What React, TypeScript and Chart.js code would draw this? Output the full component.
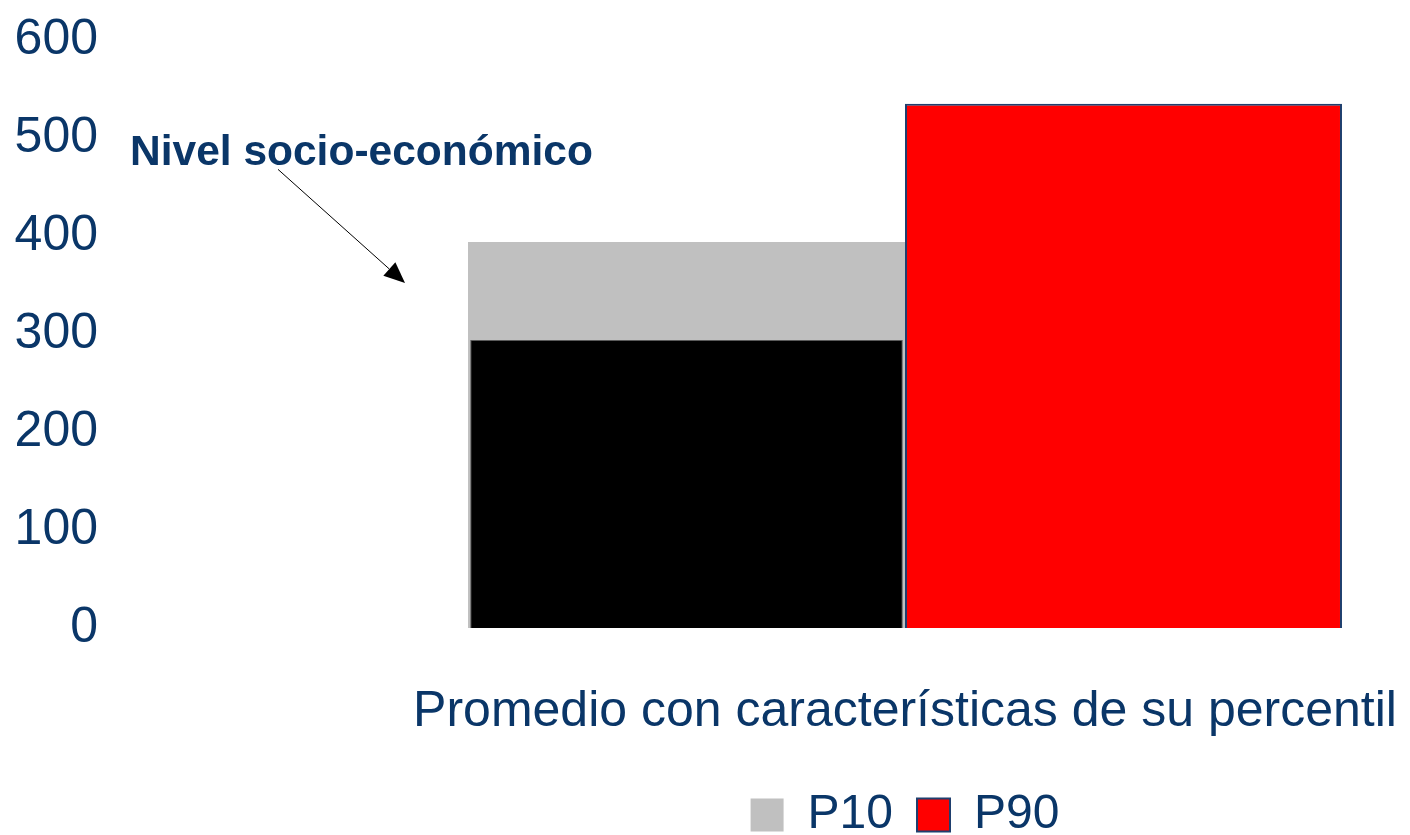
import React, { useEffect, useRef } from "react";
import { Chart, registerables } from "chart.js";

Chart.register(...registerables);

// ---- data ----
const categories = ["Promedio con características de su percentil"];
const seriesLabels = ["P10", "P90", "P10 (sin nivel socio-económico)"];
const p10Values = [394];
const p90Values = [535];
const p10BaseValues = [294];
const yTicks = [0, 100, 200, 300, 400, 500, 600];
const annotationText = "Nivel socio-económico";
// annotation anchor values on the y scale (text baseline, arrow start, arrow tip)
const annotationValues = [472, 468, 352];

const NAVY = "#0A3668";
const FONT = "'Liberation Sans', Arial, Helvetica, sans-serif";

const annotationPlugin = {
  id: "nseAnnotation",
  afterDraw(chart: any) {
    const { ctx, chartArea, scales } = chart;
    const y = scales.y;
    const textY = y.getPixelForValue(annotationValues[0]);
    const startY = y.getPixelForValue(annotationValues[1]);
    const tipY = y.getPixelForValue(annotationValues[2]);
    const textX = chartArea.left - 280;
    const startX = chartArea.left - 132;
    const tipX = chartArea.left - 5;
    ctx.save();
    ctx.fillStyle = NAVY;
    ctx.font = `bold 42.5px ${FONT}`;
    ctx.textAlign = "left";
    ctx.textBaseline = "alphabetic";
    ctx.fillText(annotationText, textX, textY);
    // arrow
    const ang = Math.atan2(tipY - startY, tipX - startX);
    const headLen = 21;
    const headHalf = 9;
    const bx = tipX - headLen * Math.cos(ang);
    const by = tipY - headLen * Math.sin(ang);
    ctx.strokeStyle = "#000";
    ctx.lineWidth = 1;
    ctx.beginPath();
    ctx.moveTo(startX, startY);
    ctx.lineTo(bx, by);
    ctx.stroke();
    ctx.fillStyle = "#000";
    ctx.beginPath();
    ctx.moveTo(tipX, tipY);
    ctx.lineTo(bx + headHalf * Math.sin(ang), by - headHalf * Math.cos(ang));
    ctx.lineTo(bx - headHalf * Math.sin(ang), by + headHalf * Math.cos(ang));
    ctx.closePath();
    ctx.fill();
    ctx.restore();
  },
};

export default function App() {
  const canvasRef = useRef<HTMLCanvasElement | null>(null);

  useEffect(() => {
    if (!canvasRef.current) return;
    const chart = new Chart(canvasRef.current, {
      type: "bar",
      data: {
        labels: categories,
        datasets: [
          {
            label: seriesLabels[0],
            data: p10Values,
            backgroundColor: "#C0C0C0",
            borderWidth: 0,
            stack: "a",
          },
          {
            label: seriesLabels[1],
            data: p90Values,
            backgroundColor: "#FF0000",
            borderColor: "#1F3F6E",
            borderWidth: 2,
            stack: "b",
          },
          {
            label: seriesLabels[2],
            data: p10BaseValues,
            backgroundColor: "#000000",
            borderColor: "#5A5A5A",
            borderWidth: 1,
            stack: "a",
            order: -1,
            barPercentage: 0.99,
          } as any,
        ],
      },
      options: {
        responsive: false,
        animation: false,
        layout: { padding: { left: 14, right: 10, top: 0, bottom: 0 } },
        datasets: {
          bar: { categoryPercentage: 0.8828, barPercentage: 1 },
        },
        scales: {
          x: {
            stacked: true,
            grid: { display: false, drawTicks: false },
            border: { display: false },
            ticks: { display: false },
            title: {
              display: true,
              text: categories[0],
              color: NAVY,
              font: { family: FONT, size: 50 },
              padding: { top: 0, bottom: 25 },
            },
            afterFit: (s: any) => {
              s.height = 139;
            },
          },
          y: {
            stacked: false,
            position: "left",
            weight: 10,
            min: 0,
            max: 600,
            afterBuildTicks: (s: any) => {
              s.ticks = yTicks.map((v) => ({ value: v }));
            },
            grid: { display: false, drawTicks: false },
            border: { display: false },
            ticks: {
              color: NAVY,
              padding: 10,
              font: { family: FONT, size: 50 },
            },
            afterFit: (s: any) => {
              s.width = 94;
            },
          },
          spacer: {
            type: "linear",
            position: "left",
            weight: 0,
            display: true,
            grid: { display: false, drawTicks: false },
            border: { display: false },
            ticks: { display: false },
            afterFit: (s: any) => {
              s.width = 302;
            },
          },
        } as any,
        plugins: {
          legend: {
            position: "bottom",
            fullSize: false,
            labels: {
              color: NAVY,
              font: { family: FONT, size: 48 },
              boxWidth: 33,
              boxHeight: 33,
              padding: 24,
              filter: (item: any) => item.datasetIndex !== 2,
            },
          },
          tooltip: { enabled: false },
          title: { display: false },
        },
      },
      plugins: [annotationPlugin],
    });
    return () => chart.destroy();
  }, []);

  return (
    <div
      style={{
        position: "fixed",
        left: 0,
        top: 0,
        width: 1410,
        height: 835,
        overflow: "hidden",
        background: "#ffffff",
      }}
    >
      <canvas ref={canvasRef} width={1410} height={849} style={{ display: "block" }} />
    </div>
  );
}
